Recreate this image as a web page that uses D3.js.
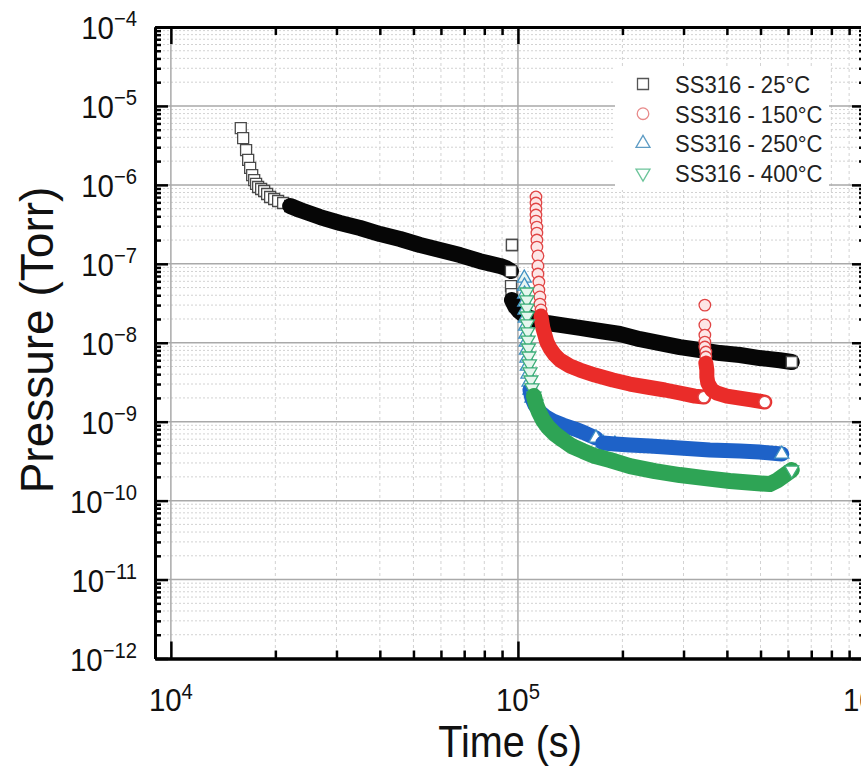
<!DOCTYPE html>
<html><head><meta charset="utf-8">
<script src="https://cdn.jsdelivr.net/npm/d3@7"></script>
<style>html,body{margin:0;padding:0;background:#fff;overflow:hidden}</style>
</head><body>
<svg id="chart" width="861" height="766"></svg>
<script>
// ---------------- data ----------------
const xDomain = [9000, 1e6];
const yDomain = [1e-12, 1e-4];
const xMajorExp = [4, 5, 6];
const yMajorExp = [-12, -11, -10, -9, -8, -7, -6, -5, -4];
const legendLabels = ["SS316 - 25°C", "SS316 - 150°C", "SS316 - 250°C", "SS316 - 400°C"];

// SS316 - 25°C  (time s, pressure Torr)
const ss25_a = [[15900,5.25e-6],[16150,3.92e-6],[16470,2.76e-6],[16700,2.07e-6],[16920,1.64e-6],[17150,1.33e-6],[17380,1.15e-6],[17600,1.03e-6],[17840,9.4e-7],[18200,8.86e-7],[18570,8.36e-7],[18940,7.66e-7],[19320,7.02e-7],[19840,6.62e-7],[20370,6.25e-7],[21060,5.89e-7],[22060,5.40e-7],[23570,4.80e-7],[26910,3.91e-7],[30720,3.29e-7],[35090,2.84e-7],[40070,2.38e-7],[45750,2.06e-7],[52230,1.73e-7],[59630,1.50e-7],[68080,1.29e-7],[77740,1.08e-7],[88750,9.4e-8],[92370,8.85e-8],[95470,8.1e-8]];
const ss25_b = [[96110,1.73e-7]];
const ss25_c = [[95500,5.23e-8],[95800,4.14e-8],[96100,3.48e-8],[98030,2.92e-8],[100700,2.52e-8],[104100,2.24e-8],[108300,2.06e-8],[121200,1.78e-8],[132100,1.68e-8],[150900,1.54e-8],[172300,1.41e-8],[196700,1.29e-8],[224600,1.11e-8],[256400,9.9e-9],[292800,8.8e-9],[334300,8.1e-9],[381600,7.4e-9],[435800,7.0e-9],[497500,6.4e-9],[568000,6.0e-9],[615200,5.7e-9]];

// SS316 - 150°C
const ss150_a = [[112700,7.02e-7],[112700,5.89e-7],[112700,4.94e-7],[112700,4.15e-7],[112700,3.48e-7],[113400,2.92e-7],[113400,2.45e-7],[113400,2.00e-7],[113400,1.63e-7],[114200,1.26e-7],[114200,9.4e-8],[114200,7.42e-8],[114900,5.88e-8],[114900,4.65e-8],[115700,3.80e-8],[115700,3.09e-8],[116500,2.60e-8],[116500,2.18e-8],[117200,1.83e-8],[118000,1.54e-8],[119600,1.25e-8],[121200,1.02e-8],[123600,8.57e-9],[127800,6.99e-9],[132100,6.04e-9],[141100,5.07e-9],[150900,4.51e-9],[166700,3.90e-9],[187700,3.37e-9],[210200,3.00e-9],[235200,2.75e-9],[265000,2.52e-9],[292800,2.31e-9],[323400,2.11e-9],[343300,2.05e-9]];
const ss150_b = [[345600,3.0e-8],[345600,1.68e-8],[345600,1.25e-8],[345600,1.02e-8],[345600,8.83e-9],[347900,7.63e-9],[347900,6.59e-9],[347900,5.53e-9],[350200,4.51e-9],[350200,3.68e-9],[352500,3.09e-9],[362000,2.52e-9],[374300,2.31e-9],[399900,2.11e-9],[435800,1.99e-9],[475100,1.88e-9],[514300,1.77e-9]];

// SS316 - 250°C
const ss250_a = [[104300,6.6e-8],[104400,5.23e-8],[104500,4.14e-8],[104600,3.28e-8],[104800,2.60e-8],[105000,2.06e-8],[105200,1.63e-8],[105400,1.29e-8],[105600,1.02e-8],[105800,8.09e-9],[106100,6.40e-9],[106400,5.07e-9],[106900,4.02e-9],[107600,3.18e-9],[108300,2.52e-9],[109700,1.99e-9],[111900,1.63e-9],[115700,1.33e-9],[120400,1.15e-9],[126100,1.02e-9],[134800,9.07e-10],[145900,8.07e-10],[155900,7.18e-10],[167800,6.21e-10]];
const ss250_b = [[175700,5.37e-10],[190300,5.21e-10],[210200,5.06e-10],[239900,4.91e-10],[292800,4.64e-10],[357200,4.37e-10],[435800,4.25e-10],[497500,4.12e-10],[575800,3.89e-10]];

// SS316 - 400°C
const ss400 = [[106000,4.39e-8],[106100,3.48e-8],[106200,2.75e-8],[106300,2.18e-8],[106500,1.73e-8],[106700,1.37e-8],[106900,1.08e-8],[107200,8.57e-9],[107500,6.79e-9],[107900,5.38e-9],[108300,4.26e-9],[109000,3.37e-9],[109700,2.67e-9],[111200,2.11e-9],[112700,1.67e-9],[114900,1.33e-9],[118000,1.05e-9],[122000,8.56e-10],[127800,6.98e-10],[134800,5.86e-10],[143000,4.91e-10],[153900,4.25e-10],[166700,3.67e-10],[184100,3.27e-10],[210200,2.74e-10],[248000,2.37e-10],[292800,2.11e-10],[345500,1.93e-10],[407900,1.77e-10],[481300,1.67e-10],[531600,1.62e-10],[560700,1.82e-10],[587300,2.11e-10],[615200,2.44e-10]];

// ---------------- chart ----------------
const L = 155, R = 865, T = 27, B = 658.5;
const x = d3.scaleLog().domain(xDomain).range([L, R]);
const y = d3.scaleLog().domain(yDomain).range([B, T]);
const svg = d3.select("#chart");
const FONT = "'Liberation Sans', Arial, Helvetica, sans-serif";

svg.append("rect").attr("width", 861).attr("height", 766).attr("fill", "#fff");

const series = [
  {label: legendLabels[0], type: d3.symbolSquare, size: 121, rot: 0, band: "#060606", bandW: 16,
   mStroke: "#4a4a4a", mFill: "#ffffff", legStroke: "#555",
   runs: [{pts: ss25_a, bandFrom: 16}, {pts: ss25_b, bandFrom: null}, {pts: ss25_c, bandFrom: 2}]},
  {label: legendLabels[1], type: d3.symbolCircle, size: 105, rot: 0, band: "#ea2c29", bandW: 15,
   mStroke: "#e04545", mFill: "#fde6e6", legStroke: "#e88a8a",
   runs: [{pts: ss150_a, bandFrom: 17}, {pts: ss150_b, bandFrom: 7}]},
  {label: legendLabels[2], type: d3.symbolTriangle, size: 85, rot: 0, band: "#1e62c8", bandW: 15,
   mStroke: "#3f8fc2", mFill: "#e8f5f2", legStroke: "#5e9cc4",
   runs: [{pts: ss250_a, bandFrom: 14}, {pts: ss250_b, bandFrom: 0}]},
  {label: legendLabels[3], type: d3.symbolTriangle, size: 85, rot: 180, band: "#2ea455", bandW: 16,
   mStroke: "#3cae78", mFill: "#e6f6ee", legStroke: "#6cc49a",
   runs: [{pts: ss400, bandFrom: 13}]}
];

// clip
svg.append("defs").append("clipPath").attr("id", "plotclip")
  .append("rect").attr("x", L).attr("y", T).attr("width", R - L).attr("height", B - T);

// grid
const grid = svg.append("g").attr("clip-path", "url(#plotclip)");
const yMinor = [], xMinor = [];
for (let e = -12; e < -4; e++) for (let k = 2; k <= 9; k++) yMinor.push(k * Math.pow(10, e));
for (let e = 4; e < 6; e++) for (let k = 2; k <= 9; k++) xMinor.push(k * Math.pow(10, e));
grid.selectAll(".ymin").data(yMinor).enter().append("line")
  .attr("x1", L).attr("x2", R).attr("y1", d => y(d)).attr("y2", d => y(d))
  .attr("stroke", "#d2d2d2").attr("stroke-width", 1).attr("stroke-dasharray", "2,2");
grid.selectAll(".xmin").data(xMinor).enter().append("line")
  .attr("y1", T).attr("y2", B).attr("x1", d => x(d)).attr("x2", d => x(d))
  .attr("stroke", "#d2d2d2").attr("stroke-width", 1).attr("stroke-dasharray", "3,3");
grid.selectAll(".ymaj").data(yMajorExp.slice(1, -1)).enter().append("line")
  .attr("x1", L).attr("x2", R).attr("y1", d => y(Math.pow(10, d))).attr("y2", d => y(Math.pow(10, d)))
  .attr("stroke", "#a9a9a9").attr("stroke-width", 1.5);
grid.selectAll(".xmaj").data([4, 5]).enter().append("line")
  .attr("y1", T).attr("y2", B).attr("x1", d => x(Math.pow(10, d))).attr("x2", d => x(Math.pow(10, d)))
  .attr("stroke", "#a9a9a9").attr("stroke-width", 1.5);

// series
const plot = svg.append("g").attr("clip-path", "url(#plotclip)");
const lineGen = d3.line().x(d => x(d[0])).y(d => y(d[1])).curve(d3.curveLinear);
function marker(g, s, d, fill) {
  g.append("path")
    .attr("d", d3.symbol().type(s.type).size(s.size)())
    .attr("transform", `translate(${x(d[0])},${y(d[1])}) rotate(${s.rot})`)
    .attr("fill", fill).attr("stroke", s.mStroke).attr("stroke-width", 1.3);
}
series.forEach(s => {
  const g = plot.append("g");
  s.runs.forEach(run => {
    const pts = run.pts;
    const last = run.bandFrom == null ? pts.length - 1 : Math.min(pts.length - 1, run.bandFrom + 1);
    for (let i = 0; i <= last; i++) marker(g, s, pts[i], s.mFill);
    if (run.bandFrom != null && pts.length - run.bandFrom > 1) {
      g.append("path").attr("d", lineGen(pts.slice(run.bandFrom)))
        .attr("fill", "none").attr("stroke", s.band).attr("stroke-width", s.bandW)
        .attr("stroke-linejoin", "round").attr("stroke-linecap", "round");
    }
    marker(g, s, pts[pts.length - 1], "#ffffff");
  });
});

// legend
const leg = svg.append("g");
leg.append("rect").attr("x", 615).attr("y", 66).attr("width", 214).attr("height", 124).attr("fill", "#fff");
series.forEach((s, i) => {
  const cy = 84 + i * 29.7;
  leg.append("path").attr("d", d3.symbol().type(s.type).size(s.size)())
    .attr("transform", `translate(643,${cy}) rotate(${s.rot})`)
    .attr("fill", "none").attr("stroke", s.legStroke).attr("stroke-width", 1.3);
  leg.append("g").attr("transform", `translate(675,${cy + 9}) scale(0.92,1)`)
    .append("text").attr("font-family", FONT).attr("font-size", 24).attr("fill", "#222")
    .text(s.label);
});

// axes (ticks inward)
function styleAxis(g) {
  g.selectAll("path.domain").attr("stroke", "#000").attr("stroke-width", 3);
  g.selectAll(".tick line").attr("stroke", "#000").attr("stroke-width", 2.5);
  g.selectAll(".tick text").remove();
}
const yMaj = yMajorExp.map(e => Math.pow(10, e));
const xMaj = xMajorExp.map(e => Math.pow(10, e));
svg.append("g").attr("transform", `translate(${L},0)`).call(d3.axisLeft(y).tickValues(yMinor).tickSize(-6).tickSizeOuter(0).tickFormat("")).call(styleAxis);
svg.append("g").attr("transform", `translate(${L},0)`).call(d3.axisLeft(y).tickValues(yMaj).tickSize(-13).tickSizeOuter(0).tickFormat("")).call(styleAxis);
svg.append("g").attr("transform", `translate(${R},0)`).call(d3.axisRight(y).tickValues(yMinor).tickSize(-6).tickSizeOuter(0).tickFormat("")).call(styleAxis);
svg.append("g").attr("transform", `translate(${R},0)`).call(d3.axisRight(y).tickValues(yMaj).tickSize(-13).tickSizeOuter(0).tickFormat("")).call(styleAxis);
svg.append("g").attr("transform", `translate(0,${B})`).call(d3.axisBottom(x).tickValues(xMinor).tickSize(-8).tickSizeOuter(0).tickFormat("")).call(styleAxis);
svg.append("g").attr("transform", `translate(0,${B})`).call(d3.axisBottom(x).tickValues(xMaj).tickSize(-17).tickSizeOuter(0).tickFormat("")).call(styleAxis);
svg.append("g").attr("transform", `translate(0,${T})`).call(d3.axisTop(x).tickValues(xMinor).tickSize(-8).tickSizeOuter(0).tickFormat("")).call(styleAxis);
svg.append("g").attr("transform", `translate(0,${T})`).call(d3.axisTop(x).tickValues(xMaj).tickSize(-17).tickSizeOuter(0).tickFormat("")).call(styleAxis);

// tick labels
yMajorExp.forEach(e => {
  const t = svg.append("g").attr("transform", `translate(137,${y(Math.pow(10, e)) + 12}) scale(0.92,1)`)
    .append("text").attr("font-family", FONT).attr("font-size", 32).attr("text-anchor", "end").attr("fill", "#111");
  t.append("tspan").text("10");
  t.append("tspan").attr("font-size", 22).attr("dy", -13).text("\u2212" + Math.abs(e));
});
xMajorExp.forEach(e => {
  const t = svg.append("g").attr("transform", `translate(${x(Math.pow(10, e))},711) scale(0.92,1)`)
    .append("text").attr("font-family", FONT).attr("font-size", 32).attr("text-anchor", "middle").attr("fill", "#111");
  t.append("tspan").text("10");
  t.append("tspan").attr("font-size", 22).attr("dy", -12).text(String(e));
});

// axis titles
svg.append("g").attr("transform", "translate(510,757) scale(0.88,1)")
  .append("text").attr("font-family", FONT).attr("font-size", 45).attr("text-anchor", "middle").attr("fill", "#111")
  .text("Time (s)");
svg.append("g").attr("transform", "translate(53,340) rotate(-90)")
  .append("text").attr("font-family", FONT).attr("font-size", 46).attr("text-anchor", "middle").attr("fill", "#111")
  .text("Pressure (Torr)");
</script>
</body></html>
